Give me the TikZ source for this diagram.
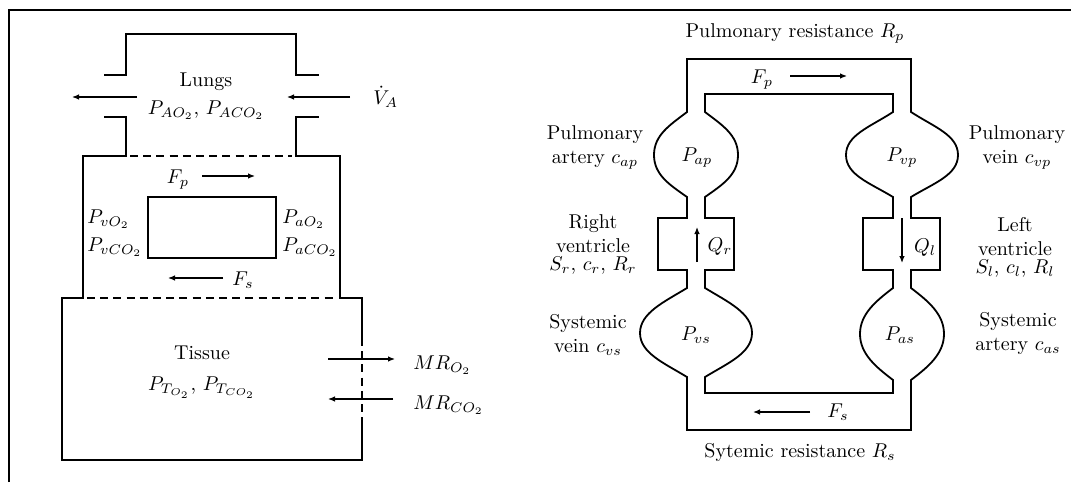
\documentclass[tikz,border=0pt]{standalone}
\usetikzlibrary{arrows.meta}
\begin{document}
\begin{tikzpicture}[x=0.5pt,y=-0.5pt,
  wall/.style={line width=0.9pt,line join=miter},
  dashwall/.style={line width=0.9pt,dash pattern=on 4pt off 2.6pt},
  flow/.style={line width=0.6pt,-{Latex[length=3.5pt,width=2.8pt]}},
  lbl/.style={inner sep=0pt,font=\normalsize},
  side/.style={inner sep=0pt,align=center,font=\normalsize}]
\useasboundingbox (0,0) rectangle (1071,482);
% frame (top and left edges)
\draw[line width=0.9pt] (9,482) -- (9,10) -- (1071,10);

% ================= left diagram =================
% lungs
\draw[wall] (104,75) -- (126,75) -- (126,34) -- (296,34) -- (296,75) -- (319,75);
\draw[wall] (104,117) -- (126,117) -- (126,156) -- (83,156) -- (83,298) -- (62,298)
  -- (62,460) -- (362,460) -- (362,420);
\draw[wall] (362,338) -- (362,298) -- (340,298) -- (340,156) -- (296,156) -- (296,117) -- (319,117);
\draw[dashwall] (130,156) -- (292,156);
\draw[dashwall] (87,298) -- (336,298);
\draw[dashwall] (362,338) -- (362,420);
% inner loop
\draw[wall] (148,197) rectangle (276,258);

% arrow end points
\coordinate (la1) at (137,97); \coordinate (la2) at (72,97);
\coordinate (lb1) at (350,97); \coordinate (lb2) at (287,97);
\coordinate (fp1) at (202,176); \coordinate (fp2) at (255,176);
\coordinate (fs1) at (223,278); \coordinate (fs2) at (168,278);
\coordinate (mo1) at (328,359); \coordinate (mo2) at (395,359);
\coordinate (mc1) at (393,399); \coordinate (mc2) at (328,399);
\draw[flow] (la1) -- (la2);
\draw[flow] (lb1) -- (lb2);
\draw[flow] (fp1) -- (fp2);
\draw[flow] (fs1) -- (fs2);
\draw[flow] (mo1) -- (mo2);
\draw[flow] (mc1) -- (mc2);

\node[lbl] (lungs) at (206,82) {Lungs};
\node[lbl] (pA) at (206,110) {$P_{AO_2}$, $P_{ACO_2}$};
\node[lbl,anchor=west] (va) at (373,97) {$\dot V_A$};
\node[lbl] (fpl) at (178,180) {$F_p$};
\node[lbl,anchor=west] (pvo) at (87,219) {$P_{vO_2}$};
\node[lbl,anchor=west] (pvco) at (87,247) {$P_{vCO_2}$};
\node[lbl,anchor=west] (pao) at (282,219) {$P_{aO_2}$};
\node[lbl,anchor=west] (paco) at (282,247) {$P_{aCO_2}$};
\node[lbl] (fsl) at (243,280) {$F_s$};
\node[lbl] (tissue) at (202,353) {Tissue};
\node[lbl] (pT) at (202,388) {$P_{T_{O_2}}$, $P_{T_{CO_2}}$};
\node[lbl,anchor=west] (mro) at (413,365) {$MR_{O_2}$};
\node[lbl,anchor=west] (mrco) at (413,405) {$MR_{CO_2}$};

% ================= right diagram =================
% outer wall
\draw[wall] (687,430) -- (687,377)
  .. controls (664,363) and (640,353) .. (640,333)
  .. controls (640,313) and (664,302) .. (687,288)
  -- (687,270) -- (658,270) -- (658,218) -- (687,218) -- (687,197)
  .. controls (670,185) and (654,175) .. (654,155)
  .. controls (654,135) and (670,125) .. (687,112)
  -- (687,59) -- (911,59) -- (911,112)
  .. controls (934,127) and (958,135) .. (958,155)
  .. controls (958,175) and (934,183) .. (911,197)
  -- (911,218) -- (940,218) -- (940,270) -- (911,270) -- (911,288)
  .. controls (928,301) and (944,314) .. (944,334)
  .. controls (944,354) and (928,367) .. (911,380)
  -- (911,430) -- cycle;
% inner wall
\draw[wall] (705,393) -- (705,377)
  .. controls (728,363) and (752,353) .. (752,333)
  .. controls (752,313) and (728,302) .. (705,288)
  -- (705,270) -- (734,270) -- (734,218) -- (705,218) -- (705,197)
  .. controls (722,185) and (738,175) .. (738,155)
  .. controls (738,135) and (722,125) .. (705,112)
  -- (705,94) -- (893,94) -- (893,112)
  .. controls (870,127) and (846,135) .. (846,155)
  .. controls (846,175) and (870,183) .. (893,197)
  -- (893,218) -- (863,218) -- (863,270) -- (893,270) -- (893,288)
  .. controls (876,301) and (860,314) .. (860,334)
  .. controls (860,354) and (876,367) .. (893,380)
  -- (893,393) -- cycle;

\coordinate (rp1) at (790,76); \coordinate (rp2) at (847,76);
\coordinate (rs1) at (810,412); \coordinate (rs2) at (753,412);
\coordinate (qr1) at (697,262); \coordinate (qr2) at (697,227);
\coordinate (ql1) at (902,218); \coordinate (ql2) at (902,263);
\draw[flow] (rp1) -- (rp2);
\draw[flow] (rs1) -- (rs2);
\draw[flow] (qr1) -- (qr2);
\draw[flow] (ql1) -- (ql2);

\node[lbl] (rpres) at (795,33) {Pulmonary resistance $R_p$};
\node[lbl] (rsres) at (800,452) {Sytemic resistance $R_s$};
\node[lbl] (fpr) at (762,80) {$F_p$};
\node[lbl] (fsr) at (838,412) {$F_s$};
\node[lbl] (pap) at (697,158) {$P_{ap}$};
\node[lbl] (pvp) at (902,158) {$P_{vp}$};
\node[lbl] (pvs) at (696,335) {$P_{vs}$};
\node[lbl] (pas) at (900,335) {$P_{as}$};
\node[lbl] (qr) at (720,247) {$Q_r$};
\node[lbl] (ql) at (925,248) {$Q_l$};

\node[side] (lpa) at (595,147) {Pulmonary\\artery $c_{ap}$};
\node[side] (lrv) at (593,244) {Right\\ventricle\\[-3pt]$S_r$, $c_r$, $R_r$};
\node[side] (lsv) at (588,335) {Systemic\\vein $c_{vs}$};
\node[side] (rpv) at (1017,147) {Pulmonary\\vein $c_{vp}$};
\node[side] (rlv) at (1015,247) {Left\\ventricle\\[-3pt]$S_l$, $c_l$, $R_l$};
\node[side] (rsa) at (1018,333) {Systemic\\artery $c_{as}$};
\end{tikzpicture}
\end{document}
